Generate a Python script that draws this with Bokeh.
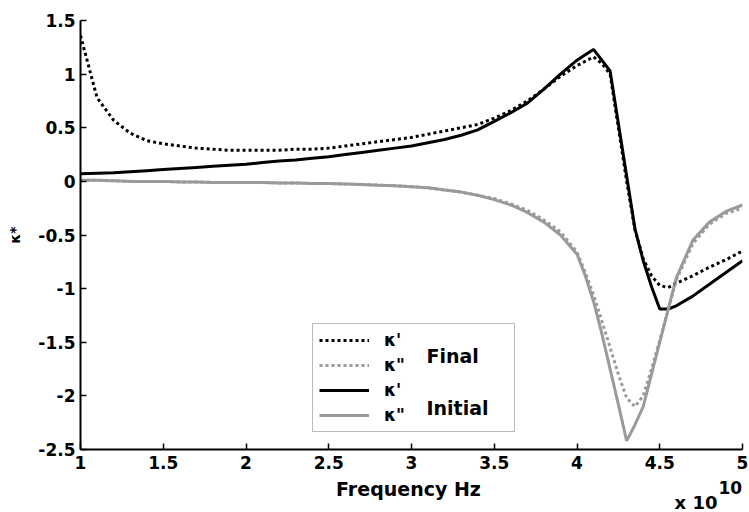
from bokeh.plotting import figure
from bokeh.models import Range1d, FixedTicker, Legend, LegendItem, Label
from bokeh.layouts import column
from bokeh.embed import file_html
from bokeh.resources import INLINE

# Frequency (x 10^10 Hz)
freq = [1.0, 1.1, 1.2, 1.3, 1.4, 1.5, 1.6, 1.7, 1.8, 1.9,
        2.0, 2.1, 2.2, 2.3, 2.4, 2.5, 2.6, 2.7, 2.8, 2.9,
        3.0, 3.1, 3.2, 3.3, 3.4, 3.5, 3.6, 3.7, 3.8, 3.9,
        4.0, 4.05, 4.1, 4.15, 4.2, 4.25, 4.3, 4.35, 4.4, 4.45,
        4.5, 4.55, 4.6, 4.7, 4.8, 4.9, 5.0]

# Final kappa' (black dotted)
final_re = [1.36, 0.78, 0.57, 0.45, 0.38, 0.35, 0.33, 0.31, 0.30, 0.29,
            0.29, 0.29, 0.29, 0.30, 0.30, 0.31, 0.33, 0.35, 0.37, 0.39,
            0.41, 0.44, 0.47, 0.50, 0.53, 0.59, 0.66, 0.75, 0.86, 0.98,
            1.08, 1.12, 1.16, 1.10, 1.00, 0.50, 0.00, -0.45, -0.72, -0.88,
            -0.97, -0.99, -0.95, -0.88, -0.80, -0.73, -0.65]

# Final kappa'' (grey dotted)
final_im = [0.01, 0.01, 0.005, 0.0, 0.0, 0.0, -0.005, -0.005, -0.01, -0.01,
            -0.01, -0.01, -0.015, -0.015, -0.02, -0.02, -0.025, -0.03, -0.035, -0.04,
            -0.05, -0.06, -0.08, -0.10, -0.13, -0.16, -0.21, -0.27, -0.36, -0.47,
            -0.66, -0.85, -1.06, -1.30, -1.55, -1.80, -2.02, -2.10, -2.00, -1.75,
            -1.48, -1.20, -0.92, -0.58, -0.40, -0.30, -0.25]

# Initial kappa' (black solid)
init_re = [0.07, 0.075, 0.08, 0.09, 0.10, 0.11, 0.12, 0.13, 0.14, 0.15,
           0.16, 0.175, 0.19, 0.20, 0.215, 0.23, 0.25, 0.27, 0.29, 0.31,
           0.33, 0.36, 0.39, 0.43, 0.48, 0.56, 0.64, 0.73, 0.86, 1.00,
           1.13, 1.18, 1.23, 1.13, 1.03, 0.54, 0.05, -0.44, -0.74, -0.98,
           -1.19, -1.19, -1.16, -1.07, -0.96, -0.85, -0.74]

# Initial kappa'' (grey solid)
init_im = [0.01, 0.01, 0.005, 0.0, 0.0, 0.0, -0.005, -0.005, -0.01, -0.01,
           -0.01, -0.01, -0.015, -0.015, -0.02, -0.02, -0.025, -0.03, -0.035, -0.04,
           -0.05, -0.06, -0.08, -0.10, -0.13, -0.17, -0.22, -0.29, -0.38, -0.50,
           -0.68, -0.88, -1.12, -1.42, -1.75, -2.08, -2.42, -2.27, -2.10, -1.80,
           -1.50, -1.20, -0.90, -0.55, -0.38, -0.28, -0.22]

x_ticks = [1, 1.5, 2, 2.5, 3, 3.5, 4, 4.5, 5]
x_tick_labels = ["1", "1.5", "2", "2.5", "3", "3.5", "4", "4.5", "5"]
y_ticks = [-2.5, -2, -1.5, -1, -0.5, 0, 0.5, 1, 1.5]
y_tick_labels = ["-2.5", "-2", "-1.5", "-1", "-0.5", "0", "0.5", "1", "1.5"]

FONT = "DejaVu Sans"
GREY = "#9a9a9a"

p = figure(width=749, height=479, output_backend="svg", toolbar_location=None,
           x_range=Range1d(1, 5), y_range=Range1d(-2.5, 1.5),
           min_border_left=80, min_border_right=7, min_border_top=20,
           min_border_bottom=30)
p.outline_line_color = None
p.xgrid.grid_line_color = None
p.ygrid.grid_line_color = None

for ax in (p.xaxis[0], p.yaxis[0]):
    ax.axis_line_width = 2
    ax.axis_line_color = "black"
    ax.major_tick_in = 6
    ax.major_tick_out = 0
    ax.minor_tick_line_color = None
    ax.major_tick_line_width = 1.5
    ax.major_label_text_font = FONT
    ax.major_label_text_font_style = "bold"
    ax.major_label_text_font_size = "17px"
    ax.major_label_text_color = "black"
    ax.axis_label_text_font = FONT
    ax.axis_label_text_font_style = "bold"
    ax.axis_label_text_color = "black"

p.xaxis.ticker = FixedTicker(ticks=x_ticks)
p.xaxis.major_label_overrides = {t: l for t, l in zip(x_ticks, x_tick_labels)}
p.yaxis.ticker = FixedTicker(ticks=y_ticks)
p.yaxis.major_label_overrides = {t: l for t, l in zip(y_ticks, y_tick_labels)}
p.xaxis.major_label_standoff = 6
p.yaxis.major_label_standoff = 5
p.yaxis.axis_label = "κ*"
p.yaxis.axis_label_text_font_size = "14px"
p.yaxis.axis_label_standoff = 12

r_init_re = p.line(freq, init_re, line_color="black", line_width=3)
r_init_im = p.line(freq, init_im, line_color=GREY, line_width=3)
r_final_re = p.line(freq, final_re, line_color="black", line_width=3, line_dash="3 3")
r_final_im = p.line(freq, final_im, line_color=GREY, line_width=3, line_dash="3 3")

legend = Legend(items=[
    LegendItem(label="κ'", renderers=[r_final_re]),
    LegendItem(label="κ\"", renderers=[r_final_im]),
    LegendItem(label="κ'", renderers=[r_init_re]),
    LegendItem(label="κ\"", renderers=[r_init_im]),
], location=(232, 17), padding=6, spacing=5, margin=0,
    glyph_width=50, glyph_height=20, label_height=20, label_width=124,
    label_standoff=15, border_line_color="#777777", border_line_width=1,
    label_text_font=FONT, label_text_font_style="bold",
    label_text_font_size="17px", label_text_color="black",
    background_fill_alpha=0.0)
p.add_layout(legend, "center")

for txt, yy in (("Final", 94), ("Initial", 42)):
    p.add_layout(Label(x=346, y=yy, x_units="screen", y_units="screen", text=txt,
                       text_font=FONT, text_font_style="bold", text_color="black",
                       text_font_size="19px", text_baseline="middle"))

# bottom strip: axis title and exponent (its frame is aligned with the plot frame)
q = figure(width=749, height=33, output_backend="svg", toolbar_location=None,
           x_axis_type=None, y_axis_type=None, min_border=0,
           x_range=Range1d(0, 1), y_range=Range1d(0, 1))
q.outline_line_color = None
q.xgrid.grid_line_color = None
q.ygrid.grid_line_color = None
q.add_layout(Label(x=328, y=24, x_units="screen", y_units="screen",
                   text="Frequency Hz", text_font=FONT, text_font_style="bold",
                   text_color="black", text_font_size="19px", text_align="center",
                   text_baseline="middle"))
q.add_layout(Label(x=594, y=10, x_units="screen", y_units="screen", text="x 10",
                   text_font=FONT, text_font_style="bold", text_color="black",
                   text_font_size="18px", text_baseline="middle"))
q.add_layout(Label(x=638, y=25, x_units="screen", y_units="screen", text="10",
                   text_font=FONT, text_font_style="bold", text_color="black",
                   text_font_size="17px", text_baseline="middle"))

layout = column(p, q, spacing=0)
open("out.html", "w").write(file_html(layout, INLINE))
